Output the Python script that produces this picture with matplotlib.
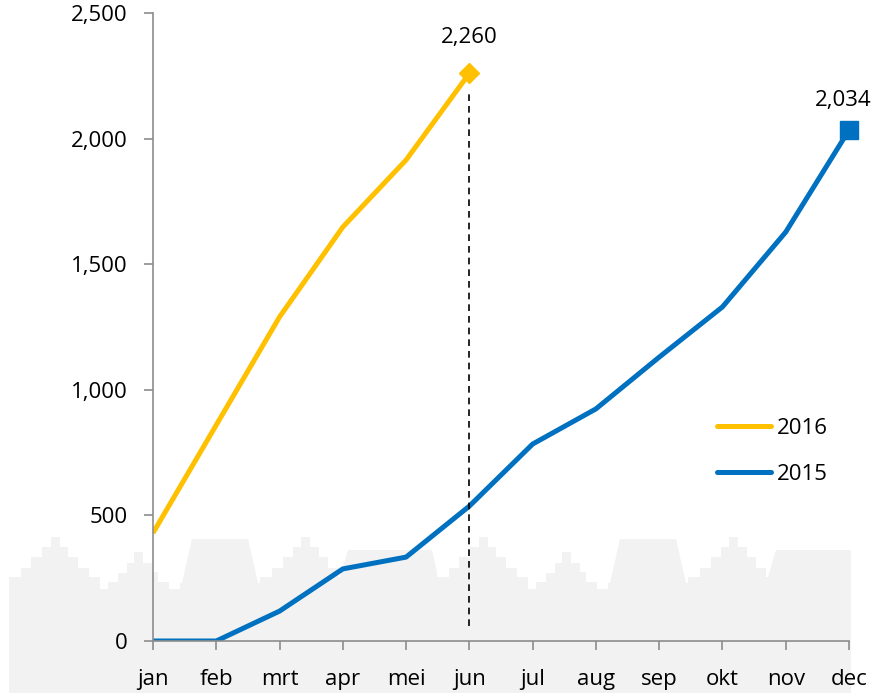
import matplotlib
matplotlib.use("Agg")
import matplotlib.pyplot as plt
import numpy as np

plt.rcParams['font.family'] = ['Open Sans', 'DejaVu Sans']

# --- data ---
months = ['jan', 'feb', 'mrt', 'apr', 'mei', 'jun', 'jul', 'aug', 'sep', 'okt', 'nov', 'dec']
y2016 = [430, 860, 1290, 1648, 1915, 2260]
y2015 = [0, 0, 119, 287, 334, 537, 784, 924, 1130, 1330, 1628, 2034]
yticks = [0, 500, 1000, 1500, 2000, 2500]

# decorative skyline (one repeat unit, pixel coords of the figure)
sky_x = [9, 21, 21, 31, 31, 42, 42, 51, 51, 60, 60, 68, 68, 78, 78, 89, 89, 100, 100,
         108, 108, 118, 118, 127, 127, 134, 134, 143, 143, 152, 152, 158, 158, 169, 169,
         180, 180, 182, 192, 248, 258, 260, 260, 272, 272, 283, 283, 293, 293, 301, 301,
         310, 310, 319, 319, 328, 328, 338, 338, 340, 348, 432, 437]
sky_y = [577, 577, 568, 568, 557, 557, 547, 547, 537, 537, 547, 547, 557, 557, 568, 568,
         577, 577, 589, 589, 582, 582, 573, 573, 563, 563, 552, 552, 563, 563, 572, 572,
         582, 582, 589, 589, 583, 583, 539, 539, 583, 583, 577, 577, 568, 568, 557, 557,
         547, 547, 537, 537, 547, 547, 557, 557, 568, 568, 577, 577, 550, 550, 572]
sky_period = 428

W, H = 874, 697
fig = plt.figure(figsize=(W / 100, H / 100), dpi=100)
fig.patch.set_facecolor('white')

# background skyline
bg = fig.add_axes([0, 0, 1, 1], zorder=0)
bg.set_xlim(0, W)
bg.set_ylim(H, 0)
bg.axis('off')
xs = np.array(list(sky_x) + [v + sky_period for v in sky_x], dtype=float)
ys = np.array(list(sky_y) + list(sky_y), dtype=float)
keep = xs <= 851
xs, ys = list(xs[keep]), list(ys[keep])
xs += [851, 851, 9]
ys += [550, 693, 693]
bg.fill(xs, ys, color='#f2f2f2', lw=0)

ax = fig.add_axes([153 / W, 1 - 641 / H, (849 - 153) / W, (641 - 13) / H], zorder=1)
ax.patch.set_alpha(0)

x = np.arange(len(months))
c16, c15 = '#FFC000', '#0070C0'
ax.plot(x[:len(y2016)], y2016, color=c16, lw=3.6, label='2016', solid_capstyle='butt')
ax.plot(x, y2015, color=c15, lw=3.6, label='2015', solid_capstyle='butt')
ax.plot(x[len(y2016) - 1], y2016[-1], marker='D', ms=10, color=c16, clip_on=False)
ax.plot(x[-1], y2015[-1], marker='s', ms=13, color=c15, clip_on=False)

ax.vlines(x[len(y2016) - 1], 60, 2195, colors='black', linestyles=(0, (4, 3)), lw=1.2)

ax.annotate('{:,}'.format(y2016[-1]), (x[len(y2016) - 1], y2016[-1]), xytext=(0, 18),
            textcoords='offset points', ha='center', va='bottom', fontsize=16)
ax.annotate('{:,}'.format(y2015[-1]), (x[-1], y2015[-1]), xytext=(-4, 14),
            textcoords='offset points', ha='center', va='bottom', fontsize=16)

ax.set_xlim(0, len(months) - 1)
ax.set_ylim(0, 2500)
ax.set_xticks(x)
ax.set_xticklabels(months)
ax.set_yticks(yticks)
ax.set_yticklabels(['{:,}'.format(v) for v in yticks])
for s in ['top', 'right']:
    ax.spines[s].set_visible(False)
for s in ['left', 'bottom']:
    ax.spines[s].set_color('#8c8c8c')
    ax.spines[s].set_linewidth(1.2)
ax.tick_params(axis='both', colors='#8c8c8c', width=1.2, length=6.5, labelsize=16,
               labelcolor='black')
ax.tick_params(axis='y', pad=12)
ax.tick_params(axis='x', pad=14)

leg = ax.legend(loc='upper left', bbox_to_anchor=(0.81, 0.355), frameon=False,
                fontsize=16, handlelength=2.45, handletextpad=0.25, labelspacing=1.1,
                borderpad=0, borderaxespad=0)
for h in leg.get_lines():
    h.set_solid_capstyle('round')

fig.savefig('out.png', dpi=100)
